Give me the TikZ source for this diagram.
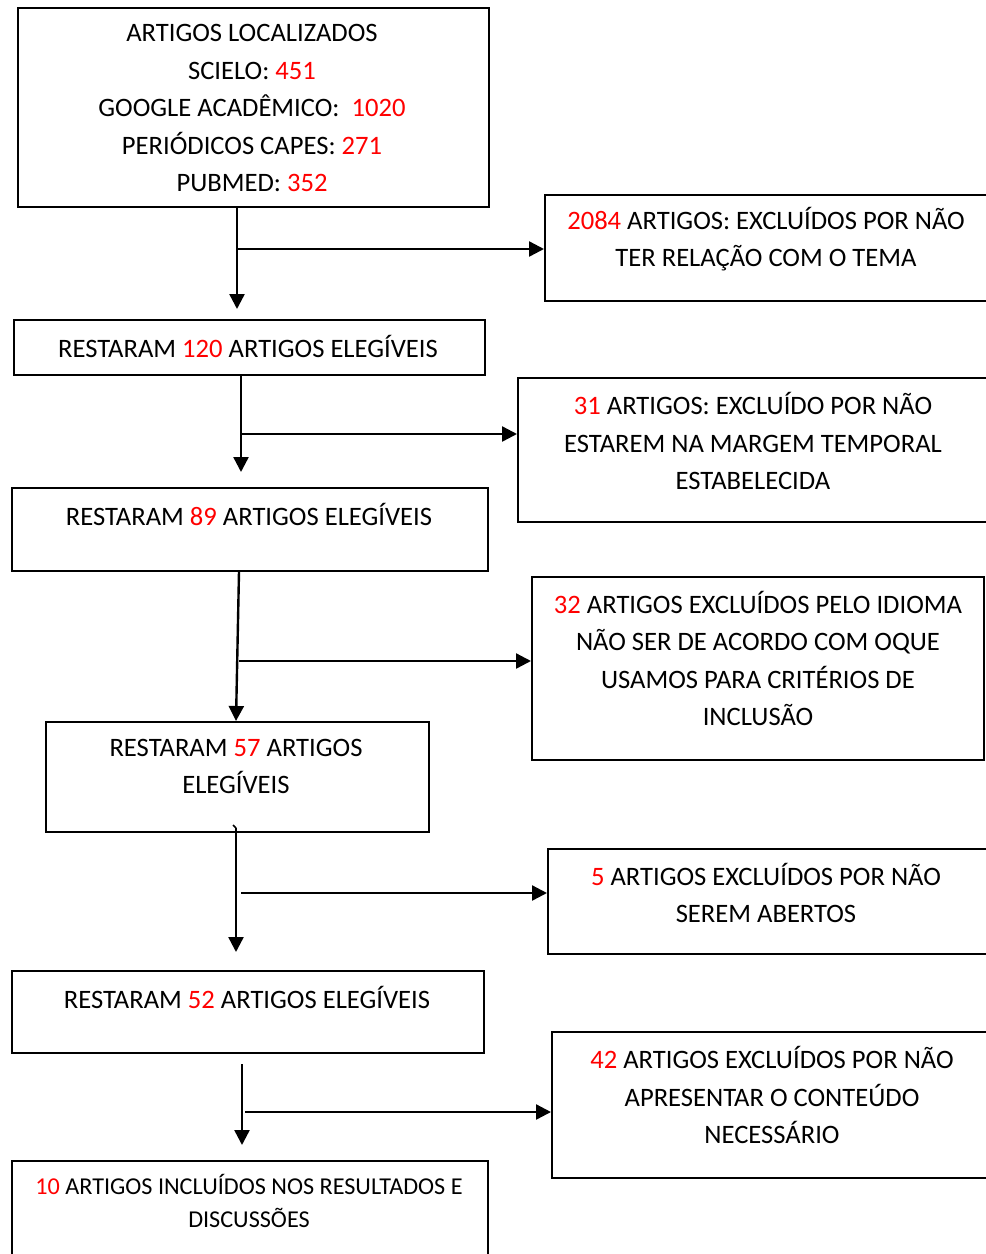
\documentclass[tikz,border=0pt]{standalone}
\usepackage{fontspec}
\setmainfont{Carlito}
\usetikzlibrary{arrows.meta}
\definecolor{numred}{RGB}{255,0,0}
\newcommand{\nr}[1]{\textcolor{numred}{#1}}
\tikzset{
  box/.style={draw=black, line width=1.6pt, rectangle, inner sep=0pt, anchor=north west},
  txt/.style={align=center, inner sep=0pt, font=\fontsize{26.6}{37.5}\selectfont},
  smalltxt/.style={align=center, inner sep=0pt, font=\fontsize{24.2}{33}\selectfont},
  arr/.style={line width=2.4pt, -{Triangle[length=15pt,width=15pt]}},
  plain/.style={line width=2pt}
}
\begin{document}
\begin{tikzpicture}[x=1pt,y=-1pt]
\useasboundingbox (0,0) rectangle (986,1254);
\clip (0,0) rectangle (986,1254);
\fill[white] (0,0) rectangle (986,1254);
% boxes
\node[box, minimum width=471pt, minimum height=199pt] (A) at (17,7) {};
\node[box, minimum width=460pt, minimum height=106pt] (B) at (544,194) {};
\node[box, minimum width=471pt, minimum height=55pt] (C) at (13,319) {};
\node[box, minimum width=485pt, minimum height=144pt] (D) at (517,377) {};
\node[box, minimum width=476pt, minimum height=83pt] (E) at (11,487) {};
\node[box, minimum width=452pt, minimum height=183pt] (F) at (531,576) {};
\node[box, minimum width=383pt, minimum height=110pt] (G) at (45,721) {};
\node[box, minimum width=460pt, minimum height=105pt] (H) at (547,848) {};
\node[box, minimum width=472pt, minimum height=82pt] (I) at (11,970) {};
\node[box, minimum width=460pt, minimum height=146pt] (J) at (551,1031) {};
\node[box, minimum width=476pt, minimum height=130pt] (K) at (11,1160) {};
% texts
\node[txt] (tA) at (252,108) {ARTIGOS LOCALIZADOS\\SCIELO: \nr{451}\\GOOGLE ACADÊMICO:\ \ \nr{1020}\\PERIÓDICOS CAPES: \nr{271}\\PUBMED: \nr{352}};
\node[txt] (tB) at (766,239) {\nr{2084} ARTIGOS: EXCLUÍDOS POR NÃO\\TER RELAÇÃO COM O TEMA};
\node[txt] (tC) at (248,346) {RESTARAM \nr{120} ARTIGOS ELEGÍVEIS};
\node[txt] (tD) at (753,441) {\nr{31} ARTIGOS: EXCLUÍDO POR NÃO\\ESTAREM NA MARGEM TEMPORAL\\ESTABELECIDA};
\node[txt] (tE) at (249,514) {RESTARAM \nr{89} ARTIGOS ELEGÍVEIS};
\node[txt] (tF) at (758,658.5) {\nr{32} ARTIGOS EXCLUÍDOS PELO IDIOMA\\NÃO SER DE ACORDO COM OQUE\\USAMOS PARA CRITÉRIOS DE\\INCLUSÃO};
\node[txt] (tG) at (236,766.5) {RESTARAM \nr{57} ARTIGOS\\ELEGÍVEIS};
\node[txt] (tH) at (766,893) {\nr{5} ARTIGOS EXCLUÍDOS POR NÃO\\SEREM ABERTOS};
\node[txt] (tI) at (247,997) {RESTARAM \nr{52} ARTIGOS ELEGÍVEIS};
\node[txt] (tJ) at (772,1095) {\nr{42} ARTIGOS EXCLUÍDOS POR NÃO\\APRESENTAR O CONTEÚDO\\NECESSÁRIO};
\node[smalltxt] (tK) at (249,1201) {\nr{10} ARTIGOS INCLUÍDOS NOS RESULTADOS E\\DISCUSSÕES};
% connector helper coordinates
\coordinate (v1) at (237,0);
\coordinate (h1) at (237,249);
\coordinate (v2) at (241,0);
\coordinate (h2) at (241,434);
\coordinate (v3a) at (239,0);
\coordinate (v3b) at (236,0);
\coordinate (h3) at (239,661);
\coordinate (s4) at (236,828);
\coordinate (t4) at (233,825);
\coordinate (h4) at (241,893);
\coordinate (s5) at (242,1064);
\coordinate (h5) at (245,1112);
% connectors
\draw[arr, shorten >=10pt] (A.south -| v1) -- (C.north -| v1);
\draw[arr] (h1) -- (B.west |- h1);
\draw[arr, shorten >=15pt] (C.south -| v2) -- (E.north -| v2);
\draw[arr] (h2) -- (D.west |- h2);
\draw[arr] (E.south -| v3a) -- (G.north -| v3b);
\draw[arr] (h3) -- (F.west |- h3);
\draw[line width=1.5pt] (t4) -- (s4);
\draw[arr, shorten >=18pt] (s4) -- (I.north -| s4);
\draw[arr] (h4) -- (H.west |- h4);
\draw[arr, shorten >=15pt] (s5) -- (K.north -| s5);
\draw[arr] (h5) -- (J.west |- h5);
\end{tikzpicture}
\end{document}
